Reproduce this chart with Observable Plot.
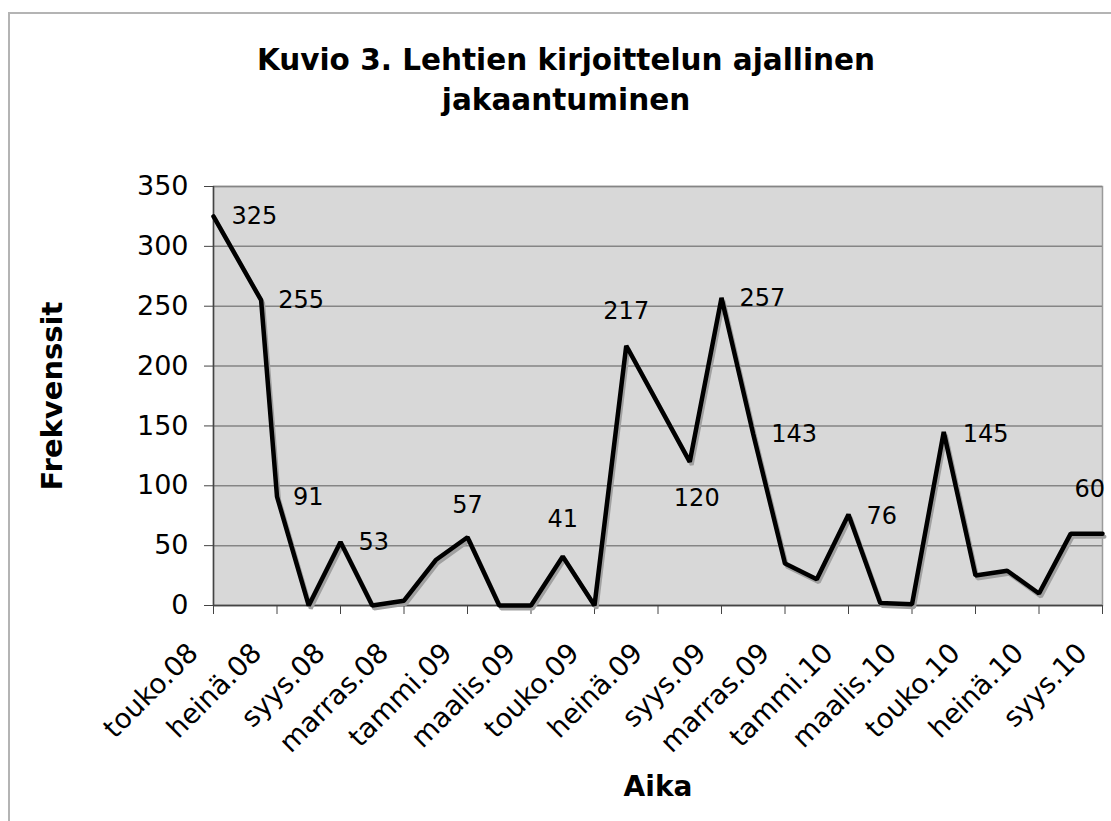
<!DOCTYPE html>
<html><head><meta charset="utf-8">
<script src="https://cdn.jsdelivr.net/npm/d3@7"></script>
<script src="https://cdn.jsdelivr.net/npm/@observablehq/plot@0.6"></script>
<style>
body{margin:0;background:#fff;font-family:"DejaVu Sans",Verdana,sans-serif;}
#wrap{position:relative;width:1111px;height:821px;overflow:hidden;}
#bt{position:absolute;left:8px;top:12px;right:0;height:2px;background:#b4b4b4}
#bl{position:absolute;left:8px;top:12px;bottom:0;width:2px;background:#b4b4b4}
#title{position:relative;width:1132px;height:150px;box-sizing:border-box;padding-top:40px;text-align:center;font-weight:bold;font-size:29.5px;line-height:40px;color:#000;}
#chart{position:relative;}
</style></head><body>
<div id="wrap"><div id="bt"></div><div id="bl"></div>
<div id="title">Kuvio 3. Lehtien kirjoittelun ajallinen<br>jakaantuminen</div>
<div id="chart"></div></div>
<script>
// months since May 2008 (touko.08 = 0)
const monthOffsets = [0, 1.5, 2, 3, 4, 5, 6, 7, 8, 9, 10, 11, 12, 13, 15, 16, 17, 18, 19, 20, 21, 22, 23, 24, 25, 26, 27, 28];
const counts       = [325, 255, 91, 0, 53, 0, 4, 38, 57, 0, 0, 41, 0, 217, 120, 257, 143, 35, 22, 76, 2, 1, 145, 25, 29, 10, 60, 60];
const tickMonths = [0, 2, 4, 6, 8, 10, 12, 14, 16, 18, 20, 22, 24, 26, 28];
const tickLabels = ["touko.08", "heinä.08", "syys.08", "marras.08", "tammi.09", "maalis.09", "touko.09", "heinä.09", "syys.09", "marras.09", "tammi.10", "maalis.10", "touko.10", "heinä.10", "syys.10"];
const yTicks = [0, 50, 100, 150, 200, 250, 300, 350];
const labelledIndices = [0, 1, 2, 4, 8, 11, 13, 14, 15, 16, 19, 22, 26];

const data = monthOffsets.map((m, i) => ({m, v: counts[i], i}));

// label placement (style, not data)
const place = {
  0: [18, 0, "start"], 1: [17, 0, "start"], 2: [16, 1, "start"], 4: [18, 0, "start"],
  8: [0, -32, "middle"], 11: [0, -37, "middle"], 13: [0, -34, "middle"],
  14: [7, 36, "middle"], 15: [18, 0, "start"], 16: [18, 0, "start"],
  19: [18, 2, "start"], 22: [19, 2, "start"], 26: [19, -44, "middle"]
};
const labelMarks = labelledIndices.map(i => Plot.text([data[i]], {
  x: "m", y: "v", text: d => String(d.v),
  dx: place[i][0], dy: place[i][1], textAnchor: place[i][2], lineAnchor: "middle",
  fontSize: 24, fill: "#000"
}));

const chart = Plot.plot({
  width: 1111, height: 671,
  marginLeft: 213, marginRight: 9, marginTop: 36, marginBottom: 216,
  x: {domain: [0, 28]},
  y: {domain: [0, 350]},
  style: {fontFamily: "DejaVu Sans, Verdana, sans-serif", fontSize: "27px", color: "#000", background: "transparent", overflow: "visible"},
  marks: [
    Plot.frame({fill: "#d8d8d8", stroke: "#9a9a9a", strokeWidth: 1.5}),
    Plot.gridY(yTicks, {stroke: "#858585", strokeOpacity: 1, strokeWidth: 1.5}),
    Plot.ruleX([0], {stroke: "#444", strokeWidth: 1.5}),
    Plot.ruleY([0], {stroke: "#444", strokeWidth: 1.5}),
    Plot.axisY({ticks: yTicks, tickSize: 9, tickPadding: 16, label: null, stroke: "#444", fontSize: 27}),
    Plot.axisX({ticks: tickMonths, tickSize: 9, tickFormat: () => "", label: null, stroke: "#444"}),
    Plot.axisX({ticks: tickMonths, tickSize: 0, tickRotate: -45, dx: -20, dy: 31, label: null, fontSize: 27.5,
      tickFormat: d => tickLabels[tickMonths.indexOf(d)]}),
    Plot.line(data, {x: "m", y: "v", stroke: "#a0a0a0", strokeWidth: 4, dx: 2, dy: 3, strokeLinejoin: "miter"}),
    Plot.line(data, {x: "m", y: "v", stroke: "#000", strokeWidth: 4.5, strokeLinejoin: "miter"}),
    ...labelMarks,
    Plot.text(["Aika"], {frameAnchor: "bottom", dy: 182, lineAnchor: "middle", textAnchor: "middle", fontWeight: "bold", fontSize: 28, fill: "#000"}),
    Plot.text(["Frekvenssit"], {frameAnchor: "left", dx: -161, rotate: -90, textAnchor: "middle", lineAnchor: "middle", fontWeight: "bold", fontSize: 29, fill: "#000"})
  ]
});
document.getElementById("chart").appendChild(chart);
</script>
</body></html>
